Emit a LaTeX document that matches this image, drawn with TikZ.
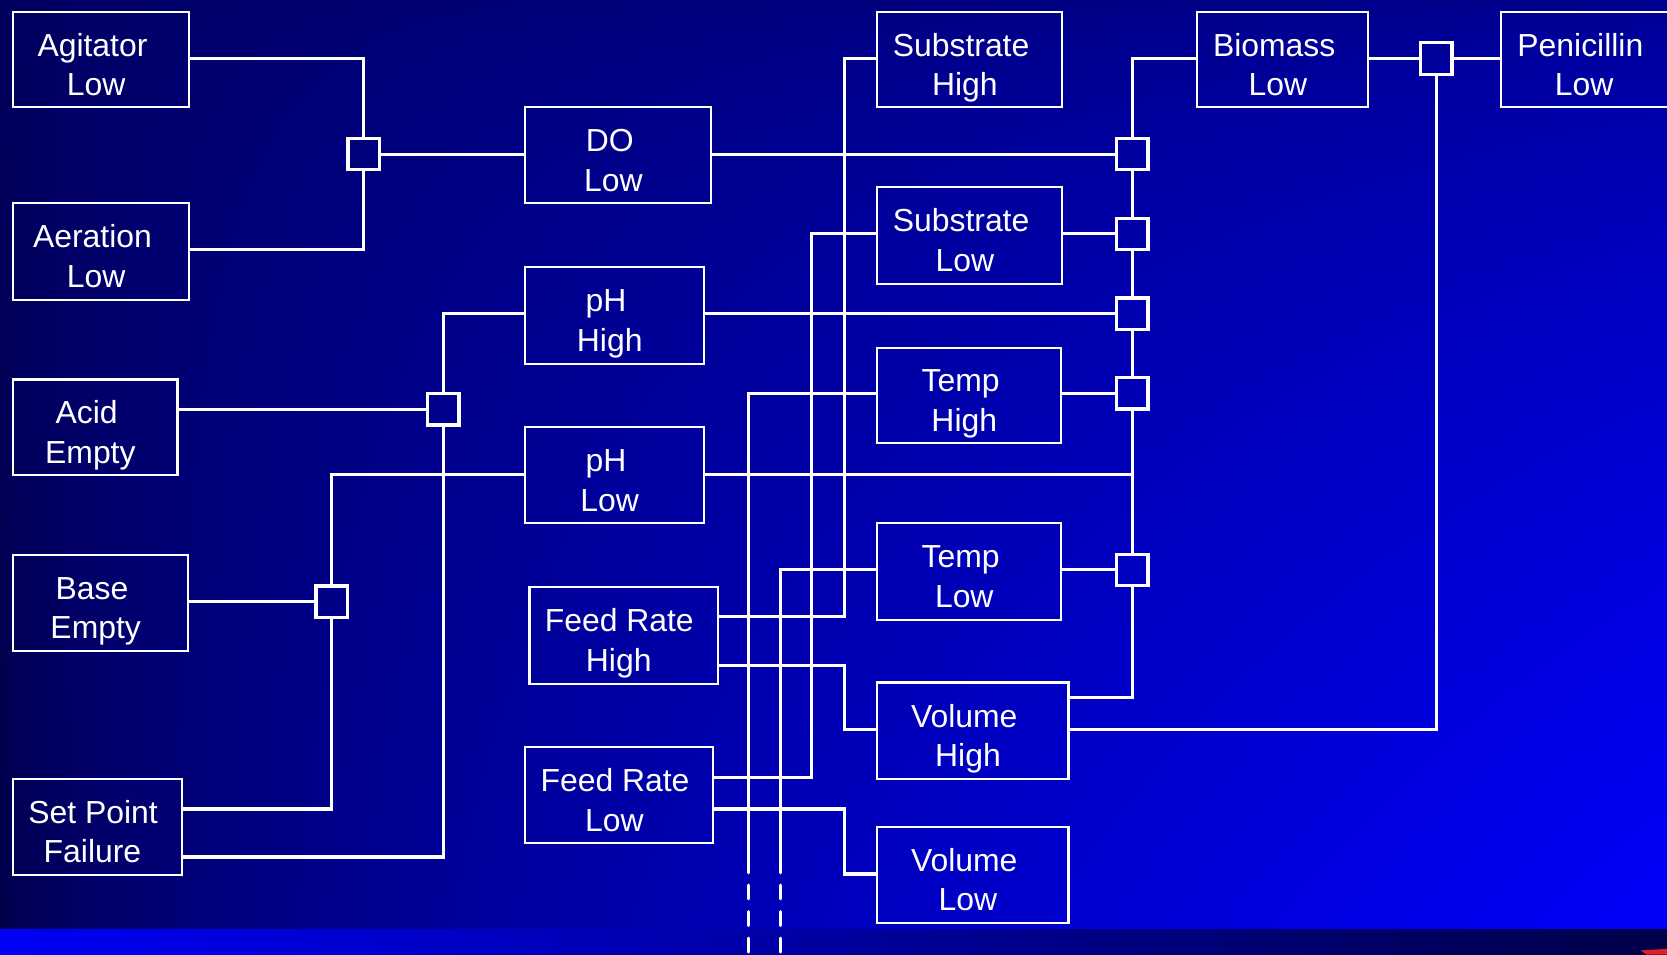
\documentclass[tikz,border=0pt]{standalone}
\usepackage{fontspec}
\setmainfont{Liberation Sans}
\usetikzlibrary{calc}
\definecolor{bandL}{HTML}{0000F5}
\definecolor{bandM}{HTML}{0000C8}
\definecolor{bandR}{HTML}{000048}
\definecolor{logored}{HTML}{E0202A}
\pgfdeclarefunctionalshading{bgshade}{\pgfpoint{0bp}{0bp}}{\pgfpoint{100bp}{100bp}}{}{
  25 sub 50 div dup 0 lt {pop 0} if dup 1 gt {pop 1} if
  1 exch sub
  exch 25 sub 50 div dup 0 lt {pop 0} if dup 1 gt {pop 1} if
  exch
  dup 0.6 exp 110 mul 140 add
  exch 20 mul 92 exch sub
  exch 1 index sub
  3 -1 roll
  0.6 exp mul add 255 div
  0 exch 0 exch
}
\newcommand\mylbl[3][16]{\rule{0pt}{37.4pt}#2\rule{#1pt}{0pt}\\#3\rule{9pt}{0pt}\rule[-7pt]{0pt}{7pt}}
\begin{document}
\begin{tikzpicture}[x=1pt,y=-1pt,
  conn/.style={draw=white, line width=3pt, line cap=round},
  dashconn/.style={draw=white, line width=3pt, line cap=round, dash pattern=on 13pt off 12pt},
  box/.style={draw=white, line width=2pt, text=white, align=center, inner sep=0pt,
    font=\fontsize{30}{37}\selectfont, shape=rectangle},
  junc/.style={draw=white, line width=3pt, minimum size=29.5pt, inner sep=0pt, shape=rectangle}]
\useasboundingbox (0,0) rectangle (1568,898);
\clip (0,0) rectangle (1568,898);
% background
\shade[shading=bgshade] (0,0) rectangle (1568,874);
\shade[left color=bandL, middle color=bandM, right color=bandR] (0,874) rectangle (1568,898);
\fill[logored] (1543,894) -- (1568,892.5) -- (1568,898) -- (1549,898) -- cycle;

% boxes
\node[box, minimum width=166pt, minimum height=90pt] (ag) at (95,56) {\mylbl{Agitator}{Low}};
\node[box, minimum width=166pt, minimum height=91pt] (ae) at (95,236.5) {\mylbl{Aeration}{Low}};
\node[box, minimum width=155pt, minimum height=90pt] (acid) at (89.5,402) {\mylbl{Acid}{Empty}};
\node[box, minimum width=165pt, minimum height=90pt] (base) at (94.5,567) {\mylbl{Base}{Empty}};
\node[box, minimum width=159pt, minimum height=90pt] (spf) at (91.5,778) {\mylbl[8]{Set Point}{Failure}};
\node[box, minimum width=175pt, minimum height=90pt] (do) at (581.5,146) {\mylbl{DO}{Low}};
\node[box, minimum width=168pt, minimum height=91pt] (phh) at (578,296.5) {\mylbl{pH}{High}};
\node[box, minimum width=168pt, minimum height=90pt] (phl) at (578,447) {\mylbl{pH}{Low}};
\node[box, minimum width=177pt, minimum height=91pt] (frh) at (586.5,597.5) {\mylbl[8]{Feed Rate}{High}};
\node[box, minimum width=177pt, minimum height=90pt] (frl) at (582.5,748) {\mylbl[8]{Feed Rate}{Low}};
\node[box, minimum width=174pt, minimum height=90pt] (sh) at (912,56) {\mylbl{Substrate}{High}};
\node[box, minimum width=174pt, minimum height=91pt] (sl) at (912,221.5) {\mylbl{Substrate}{Low}};
\node[box, minimum width=173pt, minimum height=90pt] (th) at (911.5,372) {\mylbl{Temp}{High}};
\node[box, minimum width=173pt, minimum height=91pt] (tl) at (911.5,537.5) {\mylbl{Temp}{Low}};
\node[box, minimum width=180pt, minimum height=91pt] (vh) at (915,687.5) {\mylbl{Volume}{High}};
\node[box, minimum width=180pt, minimum height=90pt] (vl) at (915,823) {\mylbl{Volume}{Low}};
\node[box, minimum width=161pt, minimum height=90pt] (bio) at (1206.5,56) {\mylbl{Biomass}{Low}};
\node[box, minimum width=165pt, minimum height=90pt] (pen) at (1494.5,56) {\mylbl{Penicillin}{Low}};

% junctions
\node[junc] (j1) at (342,145) {};
\node[junc] (j2) at (417,385) {};
\node[junc] (j3) at (312,566) {};
\node[junc] (j4) at (1065,145) {};
\node[junc] (j5) at (1065,220) {};
\node[junc] (j6) at (1065,295) {};
\node[junc] (j7) at (1065,370) {};
\node[junc] (j8) at (1065,536) {};
\node[junc] (j9) at (1351,55) {};

% helper coordinates
\coordinate (b1) at (794,580);
\coordinate (b2) at (763,731);
\coordinate (b3) at (794,626);
\coordinate (b3b) at (794,761);
\coordinate (b4) at (1065,446);
\coordinate (b5) at (1065,656);
\coordinate (b6) at (1351,686);
\coordinate (s1) at (704,821);
\coordinate (s2) at (734,821);
\coordinate (d1a) at (704,832.5);
\coordinate (d1b) at (704,920);
\coordinate (d2a) at (734,832.5);
\coordinate (d2b) at (734,920);
\coordinate (p806) at (0,806);
\coordinate (p761) at (0,761);

% left part
\draw[conn] (ag.east |- 0,55) -| (j1.north);
\draw[conn] (ae.east |- 0,235) -| (j1.south);
\draw[conn] (j1.east) -- (j1.east -| do.west);
\draw[conn] (phh.west |- 0,295) -| (j2.north);
\draw[conn] (acid.east |- j2) -- (j2.west);
\draw[conn] (spf.east |- p806) -| (j2.south);
\draw[conn] (phl.west |- 0,446) -| (j3.north);
\draw[conn] (base.east |- j3) -- (j3.west);
\draw[conn] (spf.east |- p761) -| (j3.south);

% middle part
\draw[conn] (sh.west |- 0,55) -| (b1) -- (b1 -| frh.east);
\draw[conn] (sl.west |- j5) -| (b2) -- (b2 -| frl.east);
\draw[conn] (th.west |- j7) -| (s1);
\draw[dashconn] (d1a) -- (d1b);
\draw[conn] (tl.west |- j8) -| (s2);
\draw[dashconn] (d2a) -- (d2b);
\draw[conn] (b3 -| frh.east) -- (b3) |- (vh.west |- b6);
\draw[conn] (b3b -| frl.east) -- (b3b) |- (vl.west |- 0,822);

% right part
\draw[conn] (do.east |- j4) -- (j4.west);
\draw[conn] (sl.east |- j5) -- (j5.west);
\draw[conn] (phh.east |- j6) -- (j6.west);
\draw[conn] (th.east |- j7) -- (j7.west);
\draw[conn] (b4 -| phl.east) -- (b4);
\draw[conn] (tl.east |- j8) -- (j8.west);
\draw[conn] (bio.west |- j9) -| (j4.north);
\draw[conn] (j4.south) -- (j5.north);
\draw[conn] (j5.south) -- (j6.north);
\draw[conn] (j6.south) -- (j7.north);
\draw[conn] (j7.south) -- (j8.north);
\draw[conn] (j8.south) -- (b5) -- (b5 -| vh.east);
\draw[conn] (bio.east |- j9) -- (j9.west);
\draw[conn] (j9.east) -- (j9.east -| pen.west);
\draw[conn] (j9.south) -- (b6) -- (b6 -| vh.east);
\end{tikzpicture}
\end{document}
